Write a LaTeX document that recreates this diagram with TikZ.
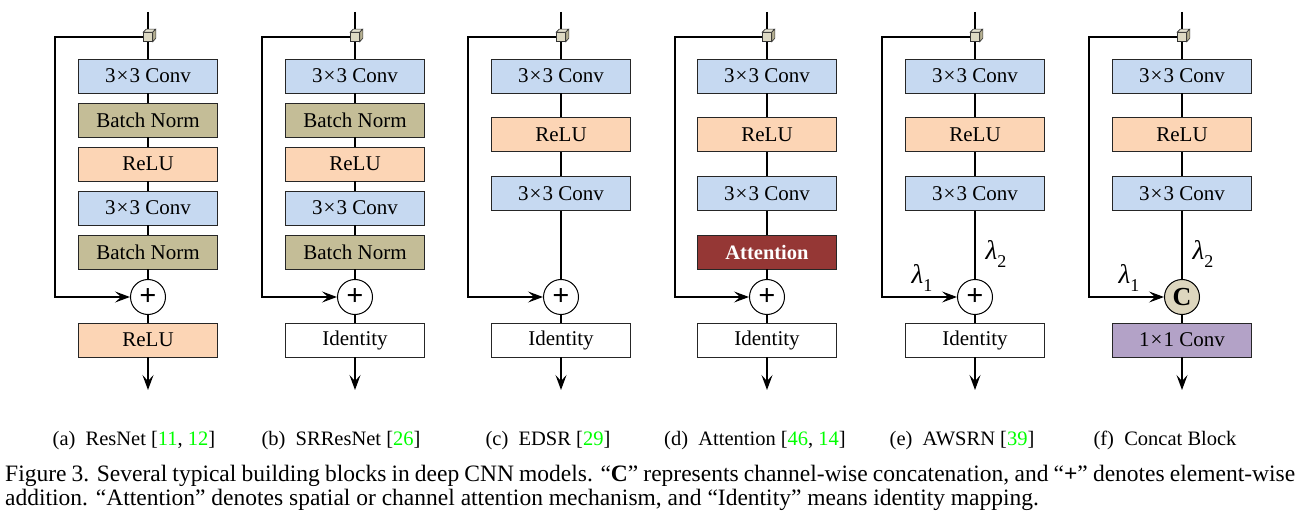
\documentclass[tikz,border=0pt]{standalone}
\usepackage{fontspec}
\setmainfont{Liberation Serif}
\usetikzlibrary{arrows.meta}
\definecolor{convc}{HTML}{C6D9F1}
\definecolor{bnc}{HTML}{C4BD97}
\definecolor{reluc}{HTML}{FCD5B5}
\definecolor{attc}{HTML}{953735}
\definecolor{onec}{HTML}{B3A2C7}
\definecolor{cubec}{HTML}{DDD9C3}
\definecolor{cubed}{HTML}{B8B294}
\definecolor{catc}{HTML}{DDD6BE}
\definecolor{citec}{HTML}{00FF00}
\tikzset{
  blk/.style={draw=black!85, line width=0.8pt, minimum width=139pt, minimum height=34pt, inner sep=0pt, font=\fontsize{21}{24}\selectfont},
  convbox/.style={blk, fill=convc},
  bnbox/.style={blk, fill=bnc},
  relubox/.style={blk, fill=reluc},
  idbox/.style={blk, fill=white},
  attbox/.style={blk, fill=attc, text=white, font=\fontsize{20.5}{24}\selectfont\bfseries},
  onebox/.style={blk, fill=onec},
  opc/.style={circle, draw=black, line width=1pt, minimum size=35pt, inner sep=0pt, fill=white, font=\fontsize{30}{30}\selectfont\bfseries},
  catcirc/.style={opc, fill=catc, font=\fontsize{26}{26}\selectfont\bfseries},
  cubebox/.style={rectangle, draw=black!80, line width=0.6pt, fill=cubec, minimum size=9pt, inner sep=0pt},
  ln/.style={line width=1.4pt},
  arr/.style={ln, -{Stealth[length=15pt, width=11pt, inset=6pt]}},
  lam/.style={font=\fontsize{27}{28}\selectfont, inner sep=0pt},
  subcap/.style={anchor=base, inner sep=0pt, font=\fontsize{20.5}{24}\selectfont},
  capline/.style={anchor=base west, inner sep=0pt, font=\fontsize{23.5}{26}\selectfont},
}
\newcommand\cubefaces[1]{%
  \draw[line width=0.6pt, draw=black!80, fill=cubec!80!white] (#1.north west) -- ++(3,-3) -- ++(9,0) -- (#1.north east) -- cycle;
  \draw[line width=0.6pt, draw=black!80, fill=cubed] (#1.north east) -- ++(3,-3) -- ++(0,9) -- (#1.south east) -- cycle;
}
\newcommand\lamsub[1]{\textit{λ}\raisebox{-0.3em}{\fontsize{18}{18}\selectfont #1}}
\newcommand\tms{\hspace{0.05em}×\hspace{0.05em}}
\begin{document}
\begin{tikzpicture}[x=1pt, y=-1pt]
\useasboundingbox (0,0) rectangle (1305,518);

% ---------- (a) ResNet ----------
\coordinate (aT) at (148,12);
\node[cubebox] (aS) at (148,37) {};
\coordinate (aL) at (55,37);
\node[convbox] (a1) at (148,76) {3\tms3 Conv};
\node[bnbox] (a2) at (148,120) {Batch Norm};
\node[relubox] (a3) at (148,164) {ReLU};
\node[convbox] (a4) at (148,208) {3\tms3 Conv};
\node[bnbox] (a5) at (148,252) {Batch Norm};
\node[opc] (aP) at (148,297) {+};
\node[relubox] (a6) at (148,340) {ReLU};
\coordinate (aO) at (148,390);
\draw[ln] (aT) -- (aS) -- (a1) -- (a2) -- (a3) -- (a4) -- (a5) -- (aP) -- (a6);
\draw[arr] (a6) -- (aO);
\draw[arr] (aS) -- (aL) |- (aP);
\cubefaces{aS}

% ---------- (b) SRResNet ----------
\coordinate (bT) at (355,12);
\node[cubebox] (bS) at (355,37) {};
\coordinate (bL) at (262,37);
\node[convbox] (b1) at (355,76) {3\tms3 Conv};
\node[bnbox] (b2) at (355,120) {Batch Norm};
\node[relubox] (b3) at (355,164) {ReLU};
\node[convbox] (b4) at (355,208) {3\tms3 Conv};
\node[bnbox] (b5) at (355,252) {Batch Norm};
\node[opc] (bP) at (355,297) {+};
\node[idbox] (b6) at (355,340) {Identity};
\coordinate (bO) at (355,390);
\draw[ln] (bT) -- (bS) -- (b1) -- (b2) -- (b3) -- (b4) -- (b5) -- (bP) -- (b6);
\draw[arr] (b6) -- (bO);
\draw[arr] (bS) -- (bL) |- (bP);
\cubefaces{bS}

% ---------- (c) EDSR ----------
\coordinate (cT) at (561,12);
\node[cubebox] (cS) at (561,37) {};
\coordinate (cL) at (468,37);
\node[convbox] (c1) at (561,76) {3\tms3 Conv};
\node[relubox] (c2) at (561,134.7) {ReLU};
\node[convbox] (c3) at (561,193.3) {3\tms3 Conv};
\node[opc] (cP) at (561,297) {+};
\node[idbox] (c6) at (561,340) {Identity};
\coordinate (cO) at (561,390);
\draw[ln] (cT) -- (cS) -- (c1) -- (c2) -- (c3) -- (cP) -- (c6);
\draw[arr] (c6) -- (cO);
\draw[arr] (cS) -- (cL) |- (cP);
\cubefaces{cS}

% ---------- (d) Attention ----------
\coordinate (dT) at (767,12);
\node[cubebox] (dS) at (767,37) {};
\coordinate (dL) at (675,37);
\node[convbox] (d1) at (767,76) {3\tms3 Conv};
\node[relubox] (d2) at (767,134.7) {ReLU};
\node[convbox] (d3) at (767,193.3) {3\tms3 Conv};
\node[attbox] (d4) at (767,252) {Attention};
\node[opc] (dP) at (767,297) {+};
\node[idbox] (d6) at (767,340) {Identity};
\coordinate (dO) at (767,390);
\draw[ln] (dT) -- (dS) -- (d1) -- (d2) -- (d3) -- (d4) -- (dP) -- (d6);
\draw[arr] (d6) -- (dO);
\draw[arr] (dS) -- (dL) |- (dP);
\cubefaces{dS}

% ---------- (e) AWSRN ----------
\coordinate (eT) at (975,12);
\node[cubebox] (eS) at (975,37) {};
\coordinate (eL) at (882,37);
\node[convbox] (e1) at (975,76) {3\tms3 Conv};
\node[relubox] (e2) at (975,134.7) {ReLU};
\node[convbox] (e3) at (975,193.3) {3\tms3 Conv};
\node[opc] (eP) at (975,297) {+};
\node[idbox] (e6) at (975,340) {Identity};
\coordinate (eO) at (975,390);
\draw[ln] (eT) -- (eS) -- (e1) -- (e2) -- (e3) -- (eP) -- (e6);
\draw[arr] (e6) -- (eO);
\draw[arr] (eS) -- (eL) |- (eP);
\cubefaces{eS}
\node[lam] (eA) at (996,254) {\lamsub{2}};
\node[lam] (eB) at (922,278) {\lamsub{1}};

% ---------- (f) Concat Block ----------
\coordinate (fT) at (1182,12);
\node[cubebox] (fS) at (1182,37) {};
\coordinate (fL) at (1089,37);
\node[convbox] (f1) at (1182,76) {3\tms3 Conv};
\node[relubox] (f2) at (1182,134.7) {ReLU};
\node[convbox] (f3) at (1182,193.3) {3\tms3 Conv};
\node[catcirc] (fP) at (1182,297) {C};
\node[onebox] (f6) at (1182,340) {1\tms1 Conv};
\coordinate (fO) at (1182,390);
\draw[ln] (fT) -- (fS) -- (f1) -- (f2) -- (f3) -- (fP) -- (f6);
\draw[arr] (f6) -- (fO);
\draw[arr] (fS) -- (fL) |- (fP);
\cubefaces{fS}
\node[lam] (fA) at (1203,254) {\lamsub{2}};
\node[lam] (fB) at (1129,278) {\lamsub{1}};

% ---------- sub-captions ----------
\node[subcap] (capa) at (134,445) {(a)\enspace ResNet [\textcolor{citec}{11}, \textcolor{citec}{12}]};
\node[subcap] (capb) at (341,445) {(b)\enspace SRResNet [\textcolor{citec}{26}]};
\node[subcap] (capc) at (548,445) {(c)\enspace EDSR [\textcolor{citec}{29}]};
\node[subcap] (capd) at (755,445) {(d)\enspace Attention [\textcolor{citec}{46}, \textcolor{citec}{14}]};
\node[subcap] (cape) at (962,445) {(e)\enspace AWSRN [\textcolor{citec}{39}]};
\node[subcap] (capf) at (1165,445) {(f)\enspace Concat Block};

% ---------- caption ----------
\node[capline] (cap1) at (5,481) {\makebox[1290pt][s]{Figure 3. Several typical building blocks in deep CNN models. “\textbf{C}” represents channel-wise concatenation, and “\textbf{+}” denotes element-wise}};
\node[capline] (cap2) at (5,505) {addition. “Attention” denotes spatial or channel attention mechanism, and “Identity” means identity mapping.};
\end{tikzpicture}
\end{document}
